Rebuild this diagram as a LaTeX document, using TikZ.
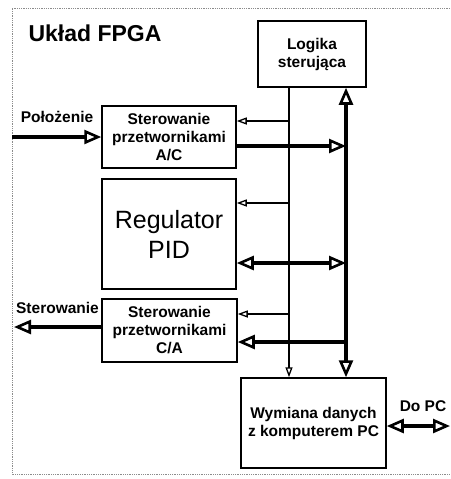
\documentclass[tikz,border=0pt]{standalone}
\usepackage{fontspec}
\setmainfont{Liberation Sans}
\usetikzlibrary{arrows.meta}
\tikzset{
  blk/.style={draw,line width=1.5pt,inner sep=0pt,align=center,
    font=\bfseries\fontsize{15.5}{18}\selectfont},
  lbl/.style={inner sep=0pt,font=\bfseries\fontsize{15.5}{18}\selectfont},
  thinarr/.style={line width=1.3pt,-{Triangle[open,length=10pt,width=7pt,line width=1.3pt]}},
  thickln/.style={line width=3.2pt},
  bigtip/.tip={Triangle[open,length=17pt,width=14pt,line width=2.6pt]},
  frame/.style={draw=black!45,line width=0.8pt,densely dotted}
}
\begin{document}
\begin{tikzpicture}[x=1pt,y=-1pt]
\useasboundingbox (0,0) rectangle (450,479);
% frame
\draw[frame] (450,8) -- (12,8) -- (12,474) -- (450,474);
\node[inner sep=0pt,font=\bfseries\fontsize{23}{27}\selectfont] (title) at (95,33) {Układ FPGA};
% blocks
\node[blk,minimum width=108pt,minimum height=66pt] (logika) at (312,54) {Logika\\sterująca};
\node[blk,minimum width=134pt,minimum height=62pt] (ac) at (169,137) {Sterowanie\\przetwornikami\\A/C};
\node[blk,minimum width=134pt,minimum height=110pt,font=\fontsize{25}{30}\selectfont] (pid) at (169,234) {Regulator\\PID};
\node[blk,minimum width=135pt,minimum height=63pt] (ca) at (169.5,330.5) {Sterowanie\\przetwornikami\\C/A};
\node[blk,minimum width=145pt,minimum height=90pt] (wym) at (313.5,423) {Wymiana danych\\z komputerem PC};
% labels
\node[lbl] (polo) at (57,117) {Położenie};
\node[lbl] (ster) at (57.5,308) {Sterowanie};
\node[lbl] (dopc) at (423,406) {Do PC};
% coordinates
\coordinate (tx) at (289,0);
\coordinate (bx) at (346,0);
\coordinate (t1) at (289,121);
\coordinate (t2) at (289,203);
\coordinate (t3) at (289,314);
\coordinate (b1) at (346,146);
\coordinate (b2) at (346,263);
\coordinate (b3) at (346,342);
\coordinate (inL) at (12,137);
\coordinate (outL) at (14,327);
\coordinate (pcR) at (450,426);
% thin control line
\draw[thinarr] (logika.south -| tx) -- (wym.north -| tx);
\draw[thinarr] (t1) -- (t1 -| ac.east);
\draw[thinarr] (t2) -- (t2 -| pid.east);
\draw[thinarr] (t3) -- (t3 -| ca.east);
% bus
\draw[thickln,bigtip-bigtip] (logika.south -| bx) -- (wym.north -| bx);
\draw[thickln,-bigtip] (b1 -| ac.east) -- (b1);
\draw[thickln,bigtip-bigtip] (b2 -| pid.east) -- (b2);
\draw[thickln,-bigtip] (b3) -- (b3 -| ca.east);
% external
\draw[thickln,-bigtip] (inL) -- (ac.west);
\draw[thickln,-bigtip] (outL -| ca.west) -- (outL);
\draw[thickln,bigtip-bigtip] (pcR -| wym.east) -- (pcR);
\end{tikzpicture}
\end{document}
